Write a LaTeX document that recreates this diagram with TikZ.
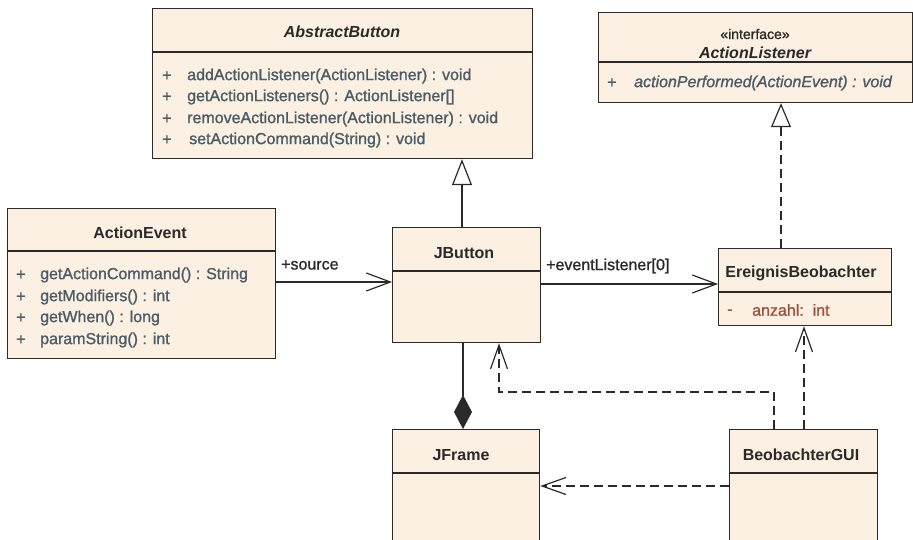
\documentclass[tikz,border=0pt]{standalone}
\usepackage{fontspec}
\setmainfont{Liberation Sans}
\newfontfamily\heavyreg[FakeBold=1.2]{Liberation Sans}
\usetikzlibrary{arrows.meta}
\definecolor{boxfill}{HTML}{FBF0E2}
\definecolor{linec}{HTML}{2A2A2A}
\definecolor{methc}{HTML}{4B5C66}
\definecolor{attrc}{HTML}{A0503A}
\begin{document}
\begin{tikzpicture}[x=1pt,y=-1pt,
  cls/.style={draw=linec, fill=boxfill, line width=1.2pt, anchor=north west, inner sep=0pt},
  sep/.style={draw=linec, line width=1.2pt},
  ttl/.style={font=\fontsize{16}{18}\selectfont\bfseries, text=linec, inner sep=0pt},
  meth/.style={font=\fontsize{16}{18}\heavyreg\selectfont, text=methc, anchor=west, inner sep=0pt},
  attr/.style={font=\fontsize{16}{18}\heavyreg\selectfont, text=attrc, anchor=west, inner sep=0pt},
  lbl/.style={font=\fontsize{16}{18}\heavyreg\selectfont, text=linec, anchor=west, inner sep=0pt},
  conn/.style={draw=linec, line width=1.2pt},
  gen/.style={conn, -{Triangle[length=26pt,width=20pt,fill=white]}},
  navi/.style={conn, -{Straight Barb[length=24pt,width=18pt]}},
  dep/.style={conn, dash pattern=on 9pt off 5pt, -{Straight Barb[length=24pt,width=17pt]}},
  real/.style={conn, dash pattern=on 9pt off 5pt, -{Triangle[length=24pt,width=20pt,fill=white]}},
  comp/.style={conn, -{Diamond[length=34pt,width=18pt]}}]
\useasboundingbox (0,0) rectangle (913,540);

% AbstractButton
\node[cls, minimum width=380pt, minimum height=150pt] (ab) at (152,8) {};
\draw[sep] (ab.west |- 0,52) -- (ab.east |- 0,52);
\node[ttl, font=\fontsize{16}{18}\selectfont\bfseries\itshape] (abt) at (342,32) {AbstractButton};
\node[meth] (abp1) at (162,76) {+};
\node[meth] (abm1) at (187,76) {addActionListener(ActionListener) : void};
\node[meth] (abp2) at (162,97) {+};
\node[meth] (abm2) at (187,97) {getActionListeners() : ActionListener[]};
\node[meth] (abp3) at (162,119) {+};
\node[meth] (abm3) at (187,119) {removeActionListener(ActionListener) : void};
\node[meth] (abp4) at (162,140) {+};
\node[meth] (abm4) at (189,140) {setActionCommand(String) : void};

% ActionListener
\node[cls, minimum width=314pt, minimum height=90pt] (al) at (598,12) {};
\draw[sep] (al.west |- 0,62) -- (al.east |- 0,62);
\node[font=\fontsize{14}{16}\heavyreg\selectfont, text=linec, inner sep=0pt] (alst) at (755,34) {«interface»};
\node[ttl, font=\fontsize{16}{18}\selectfont\bfseries\itshape] (alt) at (755,53) {ActionListener};
\node[meth] (alp1) at (607,83) {+};
\node[meth, font=\fontsize{16}{18}\heavyreg\selectfont\itshape] (alm1) at (634,83) {actionPerformed(ActionEvent) : void};

% ActionEvent
\node[cls, minimum width=268pt, minimum height=150pt] (ae) at (7,208) {};
\draw[sep] (ae.west |- 0,251) -- (ae.east |- 0,251);
\node[ttl] (aet) at (140,233) {ActionEvent};
\node[meth] (aep1) at (16,275) {+};
\node[meth] (aem1) at (40,275) {getActionCommand() : String};
\node[meth] (aep2) at (16,297) {+};
\node[meth] (aem2) at (40,297) {getModifiers() : int};
\node[meth] (aep3) at (16,318) {+};
\node[meth] (aem3) at (40,318) {getWhen() : long};
\node[meth] (aep4) at (16,340) {+};
\node[meth] (aem4) at (40,340) {paramString() : int};

% JButton
\node[cls, minimum width=148pt, minimum height=115pt] (jb) at (392,227) {};
\draw[sep] (jb.west |- 0,271) -- (jb.east |- 0,271);
\node[ttl] (jbt) at (464,253) {JButton};

% EreignisBeobachter
\node[cls, minimum width=173pt, minimum height=77pt] (eb) at (718,248) {};
\draw[sep] (eb.west |- 0,292) -- (eb.east |- 0,292);
\node[ttl] (ebt) at (801,273) {EreignisBeobachter};
\node[attr] (ebp1) at (727,312) {-};
\node[attr] (eba1) at (752,310) {anzahl:\ \ int};

% JFrame
\node[cls, minimum width=147pt, minimum height=120pt] (jf) at (392,429) {};
\draw[sep] (jf.west |- 0,473) -- (jf.east |- 0,473);
\node[ttl] (jft) at (461,455) {JFrame};

% BeobachterGUI
\node[cls, minimum width=148pt, minimum height=120pt] (bg) at (729,429) {};
\draw[sep] (bg.west |- 0,473) -- (bg.east |- 0,473);
\node[ttl] (bgt) at (801,455) {BeobachterGUI};

% connectors
\draw[gen] (jb.north -| 462,0) -- (ab.south -| 462,0);
\draw[real] (eb.north -| 781,0) -- (al.south -| 781,0);
\draw[navi] (ae.east |- 0,282) -- (jb.west |- 0,282);
\node[lbl] (srcl) at (281,265) {+source};
\draw[navi] (jb.east |- 0,284) -- (eb.west |- 0,284);
\node[lbl] (evl) at (546,266) {+eventListener[0]};
\draw[comp] (jb.south -| 463,0) -- (jf.north -| 463,0);
\draw[dep] (bg.north -| 774,0) |- (499,392) -- (jb.south -| 499,0);
\draw[dep] (bg.north -| 804,0) -- (eb.south -| 804,0);
\draw[dep] (bg.west |- 0,486) -- (jf.east |- 0,486);
\end{tikzpicture}
\end{document}
